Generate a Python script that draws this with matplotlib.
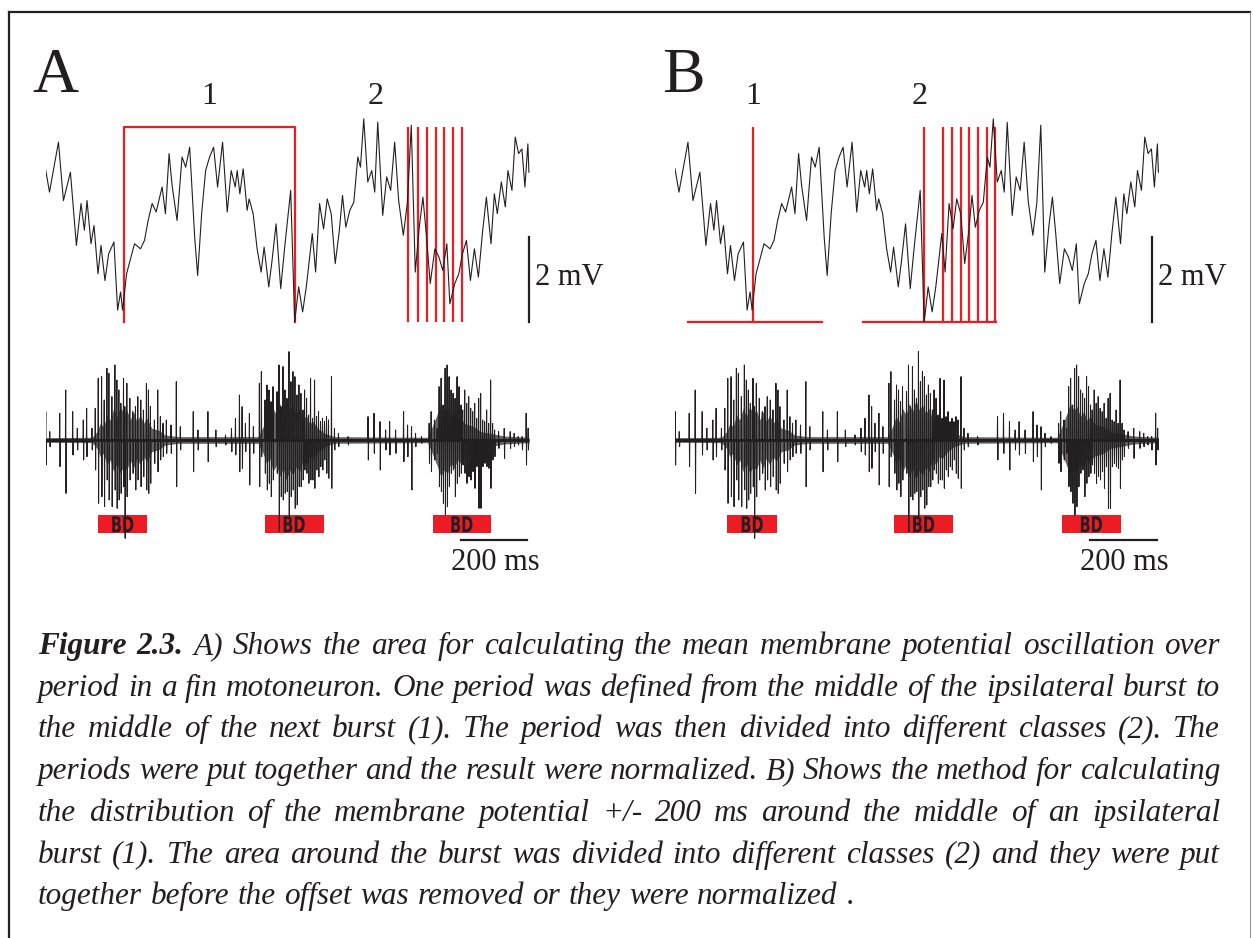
import matplotlib
matplotlib.use('Agg')
import matplotlib.pyplot as plt
from matplotlib.lines import Line2D
from matplotlib.textpath import TextPath
from matplotlib.patches import PathPatch
from matplotlib.font_manager import FontProperties
from matplotlib.transforms import Affine2D

W, H = 1253, 938
RED = '#ed1c24'
INK = '#231f20'
SERIF = ['Liberation Serif', 'DejaVu Serif']

# membrane potential trace (time in ms, mV above the lowest trough)
vm_t = [0, 12, 39, 54, 75, 93, 107, 117, 125, 137, 146, 158, 167, 179, 190, 206, 217, 226, 232, 244,
        268, 286, 298, 309, 321, 333, 351, 361, 372, 381, 396, 411, 422, 434, 449, 458, 470, 482, 494, 506,
        518, 533, 547, 559, 571, 577, 585, 595, 607, 613, 625, 637, 649, 658, 672, 682, 694, 708, 720, 738,
        750, 762, 774, 785, 803, 813, 825, 837, 848, 860, 872, 884, 894, 904, 916, 928, 940, 948, 958, 970,
        982, 991, 1000, 1015, 1027, 1039, 1051, 1063, 1077, 1089, 1101, 1113, 1125, 1136, 1146, 1158, 1172, 1184, 1196, 1208,
        1217, 1232, 1244, 1255, 1267, 1279, 1291, 1303, 1315, 1327, 1341, 1351, 1360, 1372, 1384, 1392, 1404, 1414, 1424, 1434,
        1443, 1452, 1455]
vm_v = [3.62, 3.07, 4.25, 2.87, 3.54, 1.81, 2.80, 2.17, 2.87, 1.85, 2.28, 1.14, 1.81, 0.98, 1.61, 1.89, 0.28, 0.71, 0.28, 1.14,
        1.85, 1.73, 1.93, 2.40, 2.80, 2.60, 3.19, 2.56, 3.98, 3.23, 2.40, 3.90, 3.66, 4.13, 2.01, 1.10, 2.56, 3.58, 3.90, 4.13,
        3.19, 4.25, 2.60, 3.58, 3.19, 3.58, 3.03, 3.62, 2.64, 2.91, 2.56, 1.73, 1.18, 1.77, 0.83, 1.46, 2.32, 0.79, 1.77, 3.11,
        0.00, 0.83, 0.24, 0.83, 2.09, 1.18, 2.80, 2.20, 2.91, 2.56, 1.38, 2.13, 2.99, 2.24, 2.64, 2.83, 3.90, 3.66, 4.80, 3.31,
        3.58, 3.07, 4.72, 2.52, 3.43, 3.11, 4.25, 2.87, 2.05, 2.80, 4.65, 1.18, 2.24, 2.95, 2.09, 0.91, 1.73, 1.54, 1.22, 1.85,
        0.43, 0.91, 1.14, 1.61, 1.93, 0.98, 1.73, 1.06, 2.09, 2.95, 1.85, 3.03, 2.56, 3.31, 2.72, 3.58, 3.11, 4.37, 3.98, 4.09,
        3.19, 4.21, 3.54]

# nerve recording: spike time (ms), upper and lower excursion (a.u.)
nr_t = [0, 12, 42, 60, 81, 95, 113, 123, 139, 149, 158, 168, 176, 184, 190, 199, 208, 214, 220, 226,
        234, 238, 244, 253, 262, 270, 277, 286, 294, 303, 309, 315, 327, 337, 345, 353, 363, 377, 393, 405,
        444, 458, 488, 512, 541, 559, 571, 583, 591, 601, 613, 625, 643, 649, 660, 666, 672, 678, 684, 696,
        702, 708, 714, 720, 726, 732, 738, 744, 750, 756, 762, 768, 774, 779, 785, 791, 797, 803, 809, 815,
        821, 827, 833, 839, 845, 851, 860, 869, 881, 910, 970, 988, 1006, 1023, 1035, 1053, 1077, 1089, 1101, 1113,
        1131, 1154, 1160, 1170, 1178, 1184, 1190, 1196, 1202, 1208, 1214, 1220, 1226, 1232, 1238, 1244, 1250, 1255, 1261, 1267,
        1273, 1279, 1285, 1291, 1297, 1303, 1309, 1315, 1321, 1327, 1333, 1339, 1345, 1351, 1363, 1380, 1398, 1410, 1422, 1434,
        1446, 1452]
nr_hi = [85, 25, 80, 150, 85, 35, 60, 95, 35, 95, 185, 190, 120, 215, 200, 130, 225, 180, 150, 110,
         185, 100, 170, 125, 85, 100, 130, 120, 90, 170, 150, 100, 60, 150, 70, 50, 60, 45, 175, 40,
         85, 30, 85, 30, 15, 35, 65, 135, 100, 50, 80, 40, 170, 205, 120, 165, 150, 115, 160, 145,
         225, 100, 220, 150, 125, 265, 175, 205, 190, 135, 165, 140, 90, 150, 125, 75, 185, 65, 180, 70,
         85, 55, 65, 55, 70, 60, 190, 35, 20, 10, 70, 80, 55, 30, 55, 30, 85, 45, 40, 20,
         10, 50, 85, 60, 35, 160, 185, 105, 215, 225, 190, 150, 140, 125, 190, 160, 105, 90, 150, 110,
         130, 95, 85, 110, 65, 125, 140, 60, 55, 90, 50, 180, 50, 30, 25, 35, 25, 20, 10, 10,
         80, 35]
nr_lo = [-75, -20, -80, -160, -45, -30, -60, -50, -30, -90, -190, -170, -200, -120, -180, -200, -150, -205, -180, -160,
         -140, -295, -170, -120, -100, -150, -120, -140, -110, -150, -160, -130, -70, -95, -60, -50, -40, -40, -140, -30,
         -95, -30, -65, -20, -15, -35, -45, -95, -85, -35, -135, -40, -140, -50, -100, -150, -130, -170, -120, -100,
         -275, -170, -180, -160, -155, -230, -170, -150, -205, -195, -140, -140, -120, -90, -100, -130, -120, -120, -145, -90,
         -110, -80, -90, -60, -100, -115, -145, -30, -20, -15, -60, -40, -90, -30, -45, -40, -65, -50, -150, -20,
         -10, -70, -95, -60, -40, -140, -155, -190, -225, -200, -140, -100, -90, -170, -130, -110, -100, -75, -100, -130,
         -110, -120, -95, -145, -80, -205, -205, -80, -70, -80, -85, -145, -60, -50, -25, -55, -25, -20, -15, -30,
         -75, -30]

# half width of the dense background activity (ms, a.u.)
env_t = [0, 140, 155, 165, 175, 185, 195, 205, 215, 225, 235, 245, 255, 265, 275, 285, 295, 305, 320, 340,
         360, 400, 640, 655, 665, 675, 685, 695, 705, 715, 725, 735, 745, 755, 765, 775, 785, 795, 805, 820,
         840, 870, 1150, 1160, 1170, 1180, 1190, 1200, 1210, 1220, 1230, 1240, 1250, 1260, 1275, 1290, 1310, 1340, 1380, 1455]
env_a = [7, 8, 25, 50, 40, 75, 60, 95, 70, 100, 80, 90, 60, 85, 55, 75, 50, 65, 35, 30,
         15, 10, 10, 40, 70, 55, 95, 75, 110, 85, 120, 90, 105, 80, 95, 60, 75, 50, 55, 35,
         20, 10, 8, 30, 55, 80, 110, 90, 100, 70, 85, 60, 70, 50, 45, 40, 25, 20, 12, 8]

# burst detection windows (ms)
bd_start = [158, 660, 1166]
bd_end = [307, 837, 1341]

# panel A: one period and its classes
period_a = [236, 750]
classes_a = [1092, 1122, 1147, 1174, 1200, 1226, 1254]
box_top = 4.61

# panel B: burst middles, +/- 200 ms windows and classes
mids_b = [236, 750]
windows_b = [(40, 442), (565, 965)]
classes_b = [808, 833, 860, 886, 911, 938, 963]

panels = {
    'A': dict(x0=45.5, letter_x=32, labels=[(492, '1'), (995, '2')], mv_bar=1455),
    'B': dict(x0=675.0, letter_x=662, labels=[(236, '1'), (737, '2')], mv_bar=1436),
}

caption = [
    "Figure 2.3. A) Shows the area for calculating the mean membrane potential oscillation over",
    "period in a fin motoneuron. One period was defined from the middle of the ipsilateral burst to",
    "the middle of the next burst (1). The period was then divided into different classes (2). The",
    "periods were put together and the result were normalized. B) Shows the method for calculating",
    "the distribution of the membrane potential +/- 200 ms around the middle of an ipsilateral",
    "burst (1). The area around the burst was divided into different classes (2) and they were put",
    "together before the offset was removed or they were normalized .",
]

fig = plt.figure(figsize=(W / 100, H / 100), dpi=100)

# frame
fig.add_artist(Line2D([9 / W, 9 / W], [0, 1 - 12 / H], color=INK, lw=1.6))
fig.add_artist(Line2D([9 / W, 1250 / W], [1 - 12 / H, 1 - 12 / H], color=INK, lw=1.6))
fig.add_artist(Line2D([1250 / W, 1250 / W], [0, 1 - 12 / H], color='#888888', lw=0.7))

# zigzag for the nerve recording
zx, zy = [], []
for t, hi, lo in zip(nr_t, nr_hi, nr_lo):
    zx += [t, t + 0.8, t + 1.8, t + 2.6]
    zy += [0, hi, lo, 0]

# condensed "BD" glyphs
bd_path = TextPath((0, 0), 'BD', size=1, prop=FontProperties(family='DejaVu Sans', weight='bold'))
bd_ext = bd_path.get_extents()

ms_per_px = 3.01
ax_w = 1500 / ms_per_px

for name, p in panels.items():
    # membrane axes: 42.33 px per mV, 0 mV at y=322 px
    axm = fig.add_axes([p['x0'] / W, (H - 343.2) / H, ax_w / W, 275.1 / H])
    axm.set_xlim(0, 1500)
    axm.set_ylim(-0.5, 6.0)
    axm.axis('off')
    axm.plot(vm_t, vm_v, color=INK, lw=0.8, zorder=3)

    if name == 'A':
        axm.plot([period_a[0], period_a[0], period_a[1], period_a[1]], [0, box_top, box_top, 0],
                 color=RED, lw=1.6, zorder=2)
        axm.vlines(classes_a, 0, box_top, color=RED, lw=1.6, zorder=2)
    else:
        for a, b in windows_b:
            axm.plot([a, b], [0, 0], color=RED, lw=1.6, zorder=2, clip_on=False)
        axm.vlines(mids_b, 0, box_top, color=RED, lw=1.6, zorder=2)
        axm.vlines(classes_b, 0, box_top, color=RED, lw=1.6, zorder=2)

    for t, s in p['labels']:
        axm.text(t, 5.34, s, ha='center', va='center', fontsize=23, family=SERIF, color=INK)

    axm.plot([p['mv_bar'], p['mv_bar']], [0, 2], color=INK, lw=1.6, clip_on=False)
    axm.text(p['mv_bar'] + 18, 1.06, '2 mV', ha='left', va='center', fontsize=22,
             family=SERIF, color=INK, clip_on=False)

    # nerve axes: 3 a.u. per px, baseline at y=440 px
    axn = fig.add_axes([p['x0'] / W, (H - 573.3) / H, ax_w / W, 233.3 / H])
    axn.set_xlim(0, 1500)
    axn.set_ylim(-400, 300)
    axn.axis('off')
    lo_env = [-a for a in env_a]
    axn.fill_between(env_t, lo_env, env_a, color=INK, alpha=0.7, lw=0, zorder=2)
    axn.plot(zx, zy, color=INK, lw=0.75, zorder=3)
    axn.plot([0, 1455], [0, 0], color=INK, lw=2.2, zorder=3, solid_capstyle='butt')

    for a, b in zip(bd_start, bd_end):
        axn.axvspan(a, b, ymin=(-280 + 400) / 700, ymax=(-225 + 400) / 700, color=RED, lw=0, zorder=1)
        cx = (a + b) / 2
        tr = (Affine2D().translate(-(bd_ext.x0 + bd_ext.x1) / 2, 0)
              .scale(22 * 0.66 * ms_per_px, 22 * 3.0)
              .translate(cx, -277))
        axn.add_patch(PathPatch(tr.transform_path(bd_path), color=INK, lw=0, zorder=2))

    axn.plot([1250, 1450], [-300, -300], color=INK, lw=1.6, clip_on=False)
    axn.text(1353, -369, '200 ms', ha='center', va='center', fontsize=22, family=SERIF, color=INK)

    fig.text(p['letter_x'] / W, 1 - 92 / H, name, fontsize=46, family=SERIF, color=INK,
             ha='left', va='baseline')

# justified caption
renderer = fig.canvas.get_renderer()
left, right = 38, 1220
for i, line in enumerate(caption):
    y = 1 - (654 + 41.7 * i) / H
    words = line.split(' ')
    texts = []
    for j, w in enumerate(words):
        bold = (i == 0 and j < 2)
        texts.append(fig.text(0, y, w, fontsize=22.5, style='italic',
                              weight='bold' if bold else 'normal',
                              family=SERIF, color=INK, ha='left', va='baseline'))
    widths = [t.get_window_extent(renderer).width for t in texts]
    if i < len(caption) - 1:
        gap = (right - left - sum(widths)) / (len(words) - 1)
    else:
        gap = 8.5
    x = left
    for t, w in zip(texts, widths):
        t.set_x(x / W)
        x += w + gap

fig.savefig('out.png', dpi=100)
